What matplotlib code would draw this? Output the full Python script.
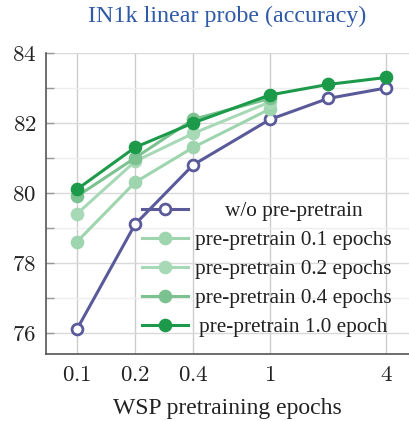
#!/usr/bin/env python3
"""IN1k linear probe accuracy vs WSP pretraining epochs."""

import matplotlib

matplotlib.use("Agg")
import matplotlib.pyplot as plt
from matplotlib.ticker import FixedLocator, FuncFormatter, NullFormatter

plt.rcParams["font.family"] = ["Liberation Serif", "DejaVu Serif"]
plt.rcParams["mathtext.fontset"] = "cm"

epochs = [0.1, 0.2, 0.4, 1, 2, 4]
epochs_short = [0.1, 0.2, 0.4, 1]

acc_wo = [76.1, 79.1, 80.8, 82.1, 82.7, 83.0]
acc_pp01 = [78.6, 80.3, 81.3, 82.4]
acc_pp02 = [79.4, 80.9, 81.7, 82.6]
acc_pp04 = [79.9, 81.0, 82.1, 82.7]
acc_pp10 = [80.1, 81.3, 82.0, 82.8, 83.1, 83.3]

x_ticks = [0.1, 0.2, 0.4, 1, 4]
y_ticks = [76, 78, 80, 82, 84]
y_minor = [77, 79, 81, 83]

labels = [
    "w/o pre-pretrain",
    "pre-pretrain 0.1 epochs",
    "pre-pretrain 0.2 epochs",
    "pre-pretrain 0.4 epochs",
    "pre-pretrain 1.0 epoch",
]


def main() -> None:
    fig = plt.figure(figsize=(4.09, 4.21), dpi=100)
    ax = fig.add_axes([0.1125, 0.1584, 0.8875, 0.7157])

    lw = 2.2
    ms = 8.8
    h_wo, = ax.plot(epochs, acc_wo, color="#5a5a9b", lw=lw, marker="o", ms=ms - 1,
                    mfc="white", mec="#5a5a9b", mew=2.0, zorder=3, label=labels[0])
    h1, = ax.plot(epochs_short, acc_pp01, color="#9fd5ae", lw=lw, marker="o", ms=ms,
                  zorder=3, label=labels[1])
    h2, = ax.plot(epochs_short, acc_pp02, color="#a7d9b7", lw=lw, marker="o", ms=ms,
                  zorder=3, label=labels[2])
    h4, = ax.plot(epochs_short, acc_pp04, color="#7cc290", lw=lw, marker="o", ms=ms,
                  zorder=3, label=labels[3])
    h10, = ax.plot(epochs, acc_pp10, color="#1c9a4a", lw=lw, marker="o", ms=ms,
                   zorder=4, label=labels[4])

    ax.set_xscale("log")
    ax.set_xlim(0.0691, 5.25)
    ax.set_ylim(75.38, 84)
    ax.xaxis.set_major_locator(FixedLocator(x_ticks))
    ax.xaxis.set_minor_locator(FixedLocator([]))
    ax.xaxis.set_minor_formatter(NullFormatter())
    ax.xaxis.set_major_formatter(FuncFormatter(lambda v, _: f"${v:g}$"))
    ax.yaxis.set_major_locator(FixedLocator(y_ticks))
    ax.yaxis.set_minor_locator(FixedLocator(y_minor))
    ax.yaxis.set_major_formatter(FuncFormatter(lambda v, _: f"${v:g}$"))

    ax.tick_params(axis="x", which="both", length=0, pad=8, labelsize=16.5, colors="#222222")
    ax.tick_params(axis="y", which="both", direction="in", length=6, width=1,
                   color="#999999", pad=7, labelsize=16.5, labelcolor="#222222")

    ax.grid(axis="x", which="major", color="#cccccc", lw=1.0)
    ax.grid(axis="y", which="major", color="#d9d9d9", lw=1.0)
    ax.grid(axis="y", which="minor", color="#eeeeee", lw=1.0)
    ax.set_axisbelow(True)

    for side in ("top", "right"):
        ax.spines[side].set_visible(False)
    for side in ("left", "bottom"):
        ax.spines[side].set_color("#555555")
        ax.spines[side].set_linewidth(1.2)

    ax.set_xlabel("WSP pretraining epochs", fontsize=17, color="#222222", labelpad=8)
    ax.set_title("IN1k linear probe (accuracy)", fontsize=17.3, color="#2f5aa8", pad=22)

    leg = ax.legend(
        handles=[h_wo, h1, h2, h4, h10],
        loc="lower right",
        bbox_to_anchor=(0.953, 0.057),
        frameon=False,
        fontsize=15.3,
        handlelength=2.2,
        handletextpad=0.33,
        labelspacing=0.43,
        borderpad=0,
        borderaxespad=0,
    )
    # center the legend texts within their column
    fig.canvas.draw()
    renderer = fig.canvas.get_renderer()
    texts = leg.get_texts()
    widths = [t.get_window_extent(renderer).width for t in texts]
    widest = max(widths)
    for t, w in zip(texts, widths):
        t.set_position(((widest - w) / 2, 0))
        t.set_color("#222222")

    fig.savefig("out.png", dpi=100)
    plt.close(fig)


if __name__ == "__main__":
    main()
